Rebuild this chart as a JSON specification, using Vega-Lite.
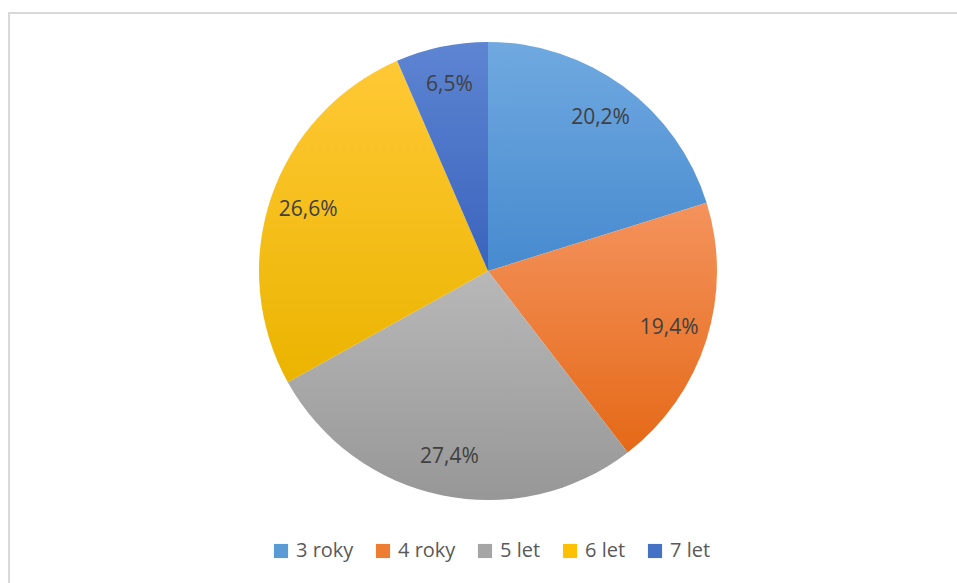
{
  "$schema": "https://vega.github.io/schema/vega-lite/v6.json",
  "autosize": "none",
  "width": 952,
  "height": 574,
  "padding": {"left": 9, "top": 13, "right": -4, "bottom": -4},
  "background": "white",
  "config": {
    "view": {"stroke": null},
    "font": "Open Sans"
  },
  "data": {
    "values": [
      {"cat": "3 roky", "value": 20.2, "label": "20,2%"},
      {"cat": "4 roky", "value": 19.4, "label": "19,4%"},
      {"cat": "5 let", "value": 27.4, "label": "27,4%"},
      {"cat": "6 let", "value": 26.6, "label": "26,6%"},
      {"cat": "7 let", "value": 6.5, "label": "6,5%"}
    ]
  },
  "layer": [
    {
      "transform": [{"aggregate": [{"op": "count", "as": "n"}]}],
      "mark": {"type": "rect", "fill": null, "stroke": "#D9D9D9", "strokeWidth": 2},
      "encoding": {}
    },
    {
      "mark": {"type": "arc", "outerRadius": 229, "x": 479, "y": 258, "stroke": null},
      "encoding": {
        "theta": {"field": "value", "type": "quantitative", "stack": true},
        "order": {"field": "cat", "type": "nominal", "sort": "ascending"},
        "color": {
          "field": "cat",
          "type": "nominal",
          "scale": {
            "domain": ["3 roky", "4 roky", "5 let", "6 let", "7 let"],
            "range": ["#5B9BD5", "#ED7D31", "#A5A5A5", "#FFC000", "#4472C4"]
          },
          "legend": {
            "title": null,
            "orient": "none",
            "direction": "horizontal",
            "columns": 5,
            "legendX": 262,
            "legendY": 528,
            "symbolType": "square",
            "symbolSize": 200,
            "symbolStrokeWidth": 0,
            "labelFontSize": 20,
            "labelFont": "Open Sans",
            "labelColor": "#595959",
            "labelOffset": 5,
            "columnPadding": 19
          },
          "condition": [
            {"test": "datum.cat === '3 roky'", "value": {"gradient": "linear", "x1": 0, "y1": 0, "x2": 0, "y2": 1, "stops": [{"offset": 0, "color": "#70A9E0"}, {"offset": 1, "color": "#468ACF"}]}},
            {"test": "datum.cat === '4 roky'", "value": {"gradient": "linear", "x1": 0, "y1": 0, "x2": 0, "y2": 1, "stops": [{"offset": 0, "color": "#F4935D"}, {"offset": 1, "color": "#E56917"}]}},
            {"test": "datum.cat === '5 let'", "value": {"gradient": "linear", "x1": 0, "y1": 0, "x2": 0, "y2": 1, "stops": [{"offset": 0, "color": "#B8B8B8"}, {"offset": 1, "color": "#979797"}]}},
            {"test": "datum.cat === '6 let'", "value": {"gradient": "linear", "x1": 0, "y1": 0, "x2": 0, "y2": 1, "stops": [{"offset": 0, "color": "#FFC936"}, {"offset": 1, "color": "#EBB400"}]}},
            {"test": "datum.cat === '7 let'", "value": {"gradient": "linear", "x1": 0, "y1": 0, "x2": 0, "y2": 1, "stops": [{"offset": 0, "color": "#5D85D2"}, {"offset": 1, "color": "#3A63BD"}]}}
          ]
        }
      }
    },
    {
      "mark": {"type": "text", "radius": 190, "x": 479, "y": 258, "fontSize": 21, "font": "Open Sans", "fill": "#404040"},
      "encoding": {
        "theta": {"field": "value", "type": "quantitative", "stack": true},
        "order": {"field": "cat", "type": "nominal", "sort": "ascending"},
        "detail": {"field": "cat", "type": "nominal"},
        "text": {"field": "label", "type": "nominal"}
      }
    }
  ]
}
